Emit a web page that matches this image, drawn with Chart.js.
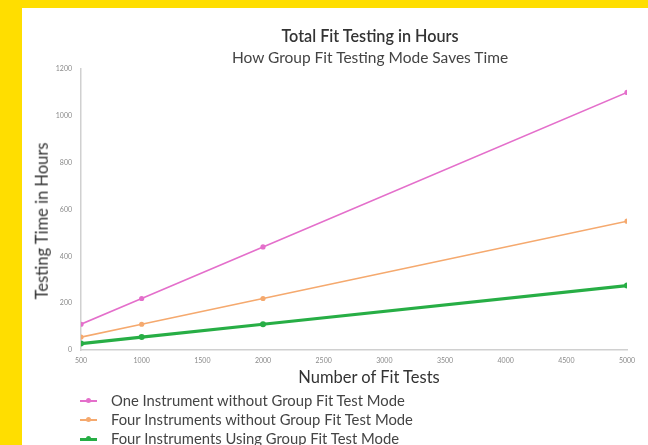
<!DOCTYPE html>
<html>
<head>
<meta charset="utf-8">
<script src="https://cdn.jsdelivr.net/npm/chart.js@4.4.0/dist/chart.umd.min.js"></script>
<style>
    html, body { margin: 0; padding: 0; }
    body {
        width: 648px;
        height: 445px;
        background: #FFDE00;
        position: relative;
        overflow: hidden;
        font-family: Lato, 'Open Sans', sans-serif;
    }
    #panel {
        position: absolute;
        left: 22px;
        top: 8px;
        width: 626px;
        height: 437px;
        background: #fff;
    }
    #chart-box {
        position: absolute;
        left: 0;
        top: 0;
        width: 626px;
        height: 380px;
    }
    .txt {
        position: absolute;
        white-space: nowrap;
        transform: translate(-50%, -50%);
        line-height: 1;
    }
    #title { left: 348px; top: 28px; font-size: 16.2px; font-weight: 600; color: #333; }
    #subtitle { left: 348px; top: 50px; font-size: 15.5px; color: #444; }
    #x-title { left: 347px; top: 369px; font-size: 16.5px; color: #333; }
    #y-title { left: 20px; top: 213px; font-size: 16.5px; color: #333; transform: translate(-50%, -50%) rotate(-90deg); }
    #legend {
        position: absolute;
        left: 58px;
        top: 383px;
        list-style: none;
        margin: 0;
        padding: 0;
    }
    #legend li {
        height: 19px;
        line-height: 19px;
        font-size: 14.8px;
        color: #444;
        white-space: nowrap;
    }
    .mark {
        display: inline-block;
        position: relative;
        width: 17px;
        height: 19px;
        margin-right: 14px;
        vertical-align: top;
    }
    .mark .ln {
        position: absolute;
        left: 0;
        right: 0;
        top: 9px;
        height: 2px;
    }
    .mark .dot {
        position: absolute;
        left: 6px;
        top: 7px;
        width: 5px;
        height: 5px;
        border-radius: 50%;
    }
</style>
</head>
<body>
<div id="panel">
    <div id="chart-box"><canvas id="fit-chart"></canvas></div>
    <div class="txt" id="title">Total Fit Testing in Hours</div>
    <div class="txt" id="subtitle">How Group Fit Testing Mode Saves Time</div>
    <div class="txt" id="x-title">Number of Fit Tests</div>
    <div class="txt" id="y-title">Testing Time in Hours</div>
    <ul id="legend"></ul>
</div>
<script>
// données
const fitTests = [500, 1000, 2000, 5000];
const oneInstrument = [110, 220, 440, 1100];
const fourInstruments = [55, 110, 220, 550];
const fourGroupMode = [27.5, 55, 110, 275];

const seriesNames = [
    'One Instrument without Group Fit Test Mode',
    'Four Instruments without Group Fit Test Mode',
    'Four Instruments Using Group Fit Test Mode'
];

const colors = {
    pink: '#E46FCB',
    orange: '#F5A96E',
    green: '#27AE45',
    tick: '#8a8a8a',
    axis: '#d0d0d0'
};

const fontFamily = "Lato, 'Open Sans', sans-serif";

function toXY(values) {
    return values.map((v, i) => ({ x: fitTests[i], y: v }));
}

const datasets = [
    {
        label: seriesNames[0],
        data: toXY(oneInstrument),
        borderColor: colors.pink,
        backgroundColor: colors.pink,
        borderWidth: 1.6,
        pointRadius: 2.6,
        pointBorderWidth: 0,
        seriesWidth: 2
    },
    {
        label: seriesNames[1],
        data: toXY(fourInstruments),
        borderColor: colors.orange,
        backgroundColor: colors.orange,
        borderWidth: 1.6,
        pointRadius: 2.6,
        pointBorderWidth: 0,
        seriesWidth: 2
    },
    {
        label: seriesNames[2],
        data: toXY(fourGroupMode),
        borderColor: colors.green,
        backgroundColor: colors.green,
        borderWidth: 3.2,
        pointRadius: 3,
        pointBorderWidth: 0,
        seriesWidth: 3
    }
];

const ctx = document.getElementById('fit-chart').getContext('2d');

// pas de séparateur de milliers sur les ticks
const plainTick = (value) => String(value);

const myChart = new Chart(ctx, {
    type: 'line',
    data: { datasets: datasets },
    options: {
        responsive: true,
        maintainAspectRatio: false,
        animation: false,
        layout: {
            padding: { left: 0, right: 21, top: 61, bottom: 0 }
        },
        elements: {
            line: { tension: 0 },
            point: { hoverRadius: 4 }
        },
        scales: {
            x: {
                type: 'linear',
                min: 500,
                max: 5000,
                grid: { display: false, drawTicks: false },
                border: { display: true, color: colors.axis, width: 1.5 },
                ticks: {
                    stepSize: 500,
                    color: colors.tick,
                    padding: 7,
                    maxRotation: 0,
                    callback: plainTick,
                    font: { family: fontFamily, size: 7 }
                },
                afterFit: (scale) => { scale.height = 38; }
            },
            y: {
                min: 0,
                max: 1200,
                grid: { display: false, drawTicks: false },
                border: { display: true, color: colors.axis, width: 1.5 },
                ticks: {
                    stepSize: 200,
                    color: colors.tick,
                    padding: 9,
                    callback: plainTick,
                    font: { family: fontFamily, size: 7 }
                },
                afterFit: (scale) => { scale.width = 59; }
            }
        },
        plugins: {
            legend: { display: false },
            tooltip: { enabled: false }
        }
    }
});

// légende en HTML, une ligne par série
const legend = document.getElementById('legend');
datasets.forEach(ds => {
    const li = document.createElement('li');
    const mark = document.createElement('span');
    mark.className = 'mark';
    const ln = document.createElement('span');
    ln.className = 'ln';
    ln.style.background = ds.borderColor;
    ln.style.height = ds.seriesWidth + 'px';
    const dot = document.createElement('span');
    dot.className = 'dot';
    dot.style.background = ds.borderColor;
    mark.appendChild(ln);
    mark.appendChild(dot);
    li.appendChild(mark);
    li.appendChild(document.createTextNode(ds.label));
    legend.appendChild(li);
});
</script>
</body>
</html>
